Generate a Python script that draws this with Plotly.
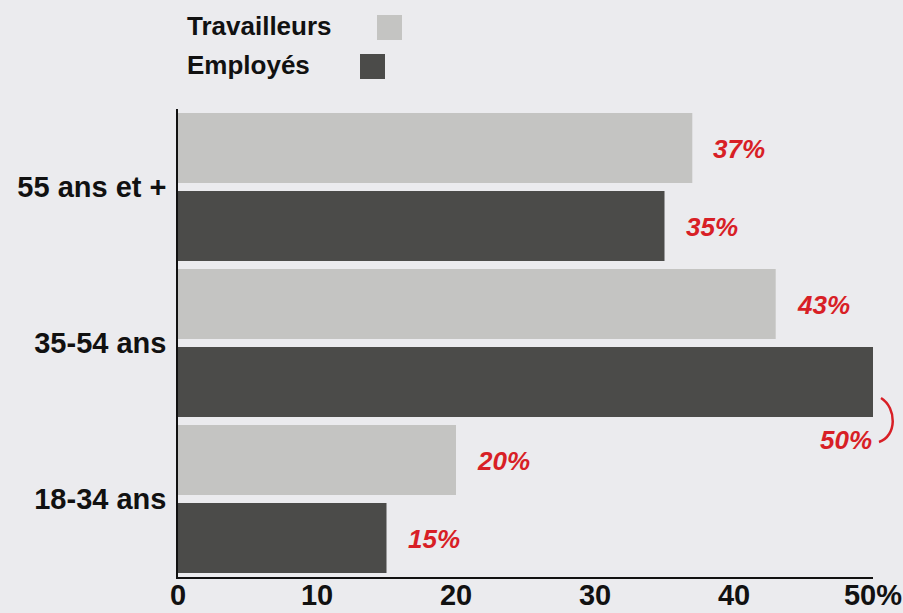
import plotly.graph_objects as go

categories = ["55 ans et +", "35-54 ans", "18-34 ans"]
travailleurs = [37, 43, 20]
employes = [35, 50, 15]
series_names = ["Travailleurs", "Employés"]
x_tickvals = [0, 10, 20, 30, 40, 50]
x_ticktext = ["0", "10", "20", "30", "40", "50%"]

BG = "#ebebee"
LIGHT = "#c4c4c2"
DARK = "#4b4b49"
RED = "#d81f26"

W, H = 903, 613
ML, MR, MT, MB = 178, 30, 109, 36
PW, PH = W - ML - MR, H - MT - MB


def px(xp):
    return (xp - ML) / PW


def py(yp):
    return (H - MB - yp) / PH


fig = go.Figure()
fig.add_trace(go.Bar(y=categories, x=travailleurs, orientation="h", name=series_names[0],
                     marker=dict(color=LIGHT, line=dict(width=0)), showlegend=False))
fig.add_trace(go.Bar(y=categories, x=employes, orientation="h", name=series_names[1],
                     marker=dict(color=DARK, line=dict(width=0)), showlegend=False))

lab_font = dict(family="Liberation Sans", size=26, color=RED, weight="bold", style="italic")
annotations = []
for i, (t, e) in enumerate(zip(travailleurs, employes)):
    annotations.append(dict(x=t, y=i - 0.25, xref="x", yref="y", text=f"{t}%", showarrow=False,
                            xanchor="left", yanchor="middle", xshift=19, yshift=-1, font=lab_font))
    if e == max(employes) and e >= 50:
        annotations.append(dict(x=e, y=i + 0.25, xref="x", yref="y", text=f"{e}%", showarrow=False,
                                xanchor="right", yanchor="middle", yshift=-58, xshift=1, font=lab_font))
    else:
        annotations.append(dict(x=e, y=i + 0.25, xref="x", yref="y", text=f"{e}%", showarrow=False,
                                xanchor="left", yanchor="middle", xshift=19, yshift=-1, font=lab_font))

leg_font = dict(family="Liberation Sans", size=26, color="#111111", weight="bold")
annotations.append(dict(x=px(185), y=py(26), xref="paper", yref="paper", text=series_names[0],
                        showarrow=False, xanchor="left", yanchor="middle", font=leg_font))
annotations.append(dict(x=px(185), y=py(65), xref="paper", yref="paper", text=series_names[1],
                        showarrow=False, xanchor="left", yanchor="middle", font=leg_font))

shapes = [
    dict(type="rect", xref="paper", yref="paper", x0=px(377), x1=px(402), y0=py(40), y1=py(15),
         fillcolor=LIGHT, line=dict(width=0)),
    dict(type="rect", xref="paper", yref="paper", x0=px(360), x1=px(385), y0=py(79), y1=py(54),
         fillcolor=DARK, line=dict(width=0)),
    dict(type="path", xref="paper", yref="paper",
         path=f"M {px(881)},{py(398)} C {px(897)},{py(408)} {px(897)},{py(436)} {px(879)},{py(442)}",
         line=dict(color=RED, width=2.5)),
]

fig.update_layout(
    width=W, height=H,
    margin=dict(l=ML, r=MR, t=MT, b=MB, pad=0, autoexpand=False),
    paper_bgcolor=BG, plot_bgcolor=BG,
    barmode="group", bargap=0, bargroupgap=0.1,
    annotations=annotations, shapes=shapes,
    xaxis=dict(range=[0, 50], tickvals=x_tickvals, ticktext=x_ticktext, showgrid=False,
               zeroline=False, showline=True, linecolor="#111111", linewidth=2, ticks="",
               automargin=False, ticklabeloverflow="allow",
               tickfont=dict(family="Liberation Sans", size=29, color="#111111", weight="bold"),
               ticklabelstandoff=-9),
    yaxis=dict(autorange="reversed", showgrid=False, zeroline=False, showline=True,
               linecolor="#111111", linewidth=1.5, ticks="", automargin=False,
               tickfont=dict(family="Liberation Sans", size=29, color="#111111", weight="bold"),
               ticklabelstandoff=4),
)

fig.write_html("out.html", config={"displayModeBar": False},
               post_script="document.body.style.margin='0';document.body.style.background='" + BG + "';")
